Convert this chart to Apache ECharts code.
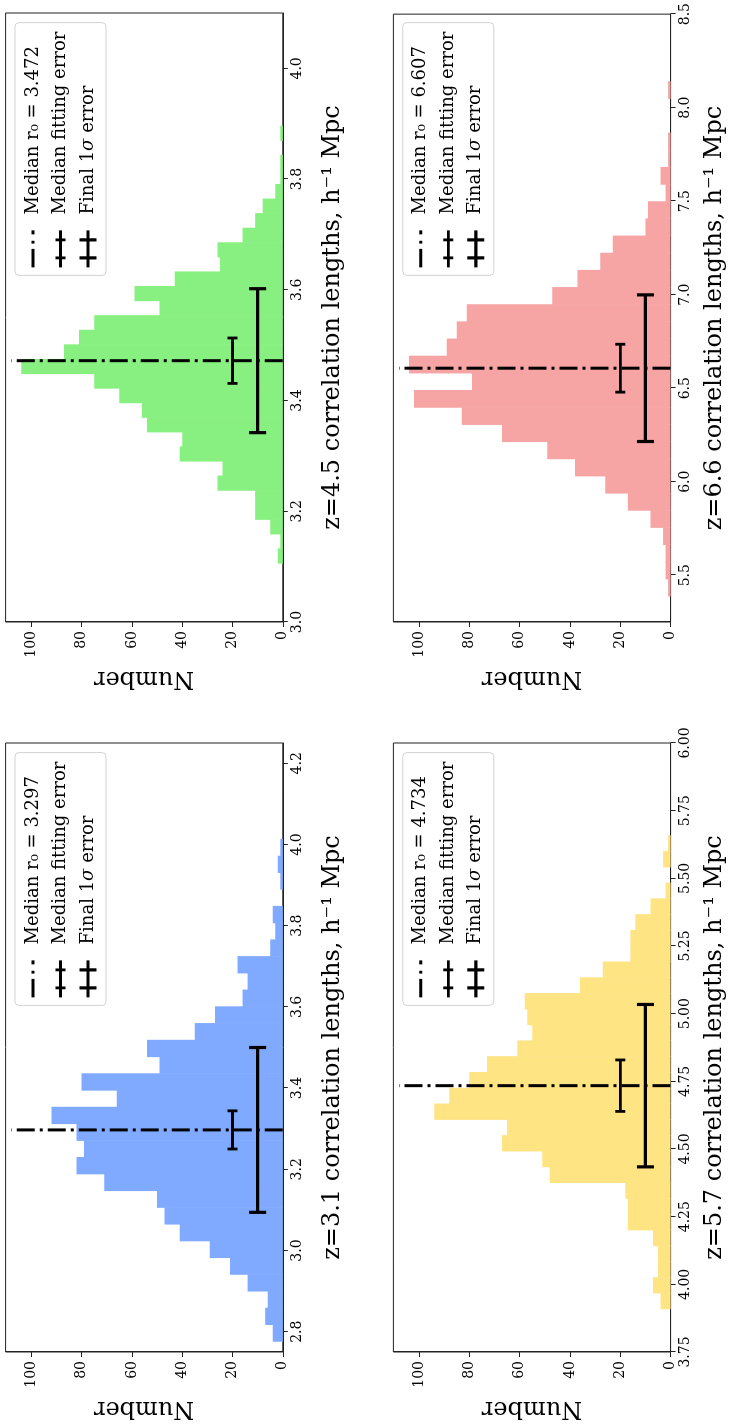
<!DOCTYPE html>
<html>
<head>
<meta charset="utf-8">
<script src="https://cdn.jsdelivr.net/npm/echarts@6/dist/echarts.min.js"></script>
<style>
  html, body { margin: 0; padding: 0; width: 730px; height: 1427px; overflow: hidden; background: #fff; }
  /* the figure is laid out landscape and turned a quarter turn counter-clockwise */
  #chart {
    position: absolute; left: 0; top: 0;
    width: 1427px; height: 730px;
    transform-origin: 0 0;
    transform: translate(0, 1427px) rotate(-90deg);
  }
</style>
</head>
<body>
<div id="chart"></div>
<script>
// ---- data -------------------------------------------------------------
const redshifts = ['3.1', '4.5', '5.7', '6.6'];

// histogram of fitted r0 values: first/last bin edge and counts (30 equal bins)
const binRangeZ31 = [2.776, 4.013];
const countsZ31 = [4, 7, 6, 14, 21, 29, 41, 47, 50, 71, 82, 79, 82, 92, 66,
                   80, 49, 54, 35, 27, 16, 14, 18, 5, 3, 4, 0, 1, 2, 1];
const binRangeZ45 = [3.106, 3.896];
const countsZ45 = [2, 1, 5, 11, 11, 26, 24, 41, 40, 54, 56, 65, 75, 104, 87,
                   81, 75, 49, 59, 43, 25, 26, 16, 11, 8, 3, 1, 1, 0, 1];
const binRangeZ57 = [3.909, 5.658];
const countsZ57 = [4, 7, 5, 5, 7, 17, 17, 18, 48, 51, 67, 65, 94, 88, 80,
                   73, 61, 55, 57, 58, 36, 27, 16, 16, 14, 8, 2, 0, 3, 1];
const binRangeZ66 = [5.388, 8.140];
const countsZ66 = [1, 2, 2, 3, 8, 17, 26, 38, 49, 67, 83, 102, 79, 104, 89,
                   85, 81, 47, 37, 28, 23, 10, 9, 2, 4, 1, 1, 0, 0, 1];

const medians     = [3.297, 3.472, 4.734, 6.607];
const fitErrors   = [0.047, 0.041, 0.095, 0.128];
const finalErrors = [0.203, 0.130, 0.300, 0.392];
const fitErrorLevel = 20;    // height (Number) at which the fitting error bar sits
const finalErrorLevel = 10;  // height of the final 1-sigma bar
const medianLineTop = 108;

const xLimits = [[2.75, 4.25], [3.0, 4.1], [3.75, 6.0], [5.25, 8.5]];
const xTicksZ31 = [2.8, 3.0, 3.2, 3.4, 3.6, 3.8, 4.0, 4.2];
const xTicksZ45 = [3.0, 3.2, 3.4, 3.6, 3.8, 4.0];
const xTicksZ57 = [3.75, 4.00, 4.25, 4.50, 4.75, 5.00, 5.25, 5.50, 5.75, 6.00];
const xTicksZ66 = [5.5, 6.0, 6.5, 7.0, 7.5, 8.0, 8.5];
const xTickDecimals = [1, 1, 2, 1];
const yTicks = [0, 20, 40, 60, 80, 100];
const yMax = 110.2;

// ---- styling / layout -------------------------------------------------
const binRanges = [binRangeZ31, binRangeZ45, binRangeZ57, binRangeZ66];
const binCounts = [countsZ31, countsZ45, countsZ57, countsZ66];
const xTicks = [xTicksZ31, xTicksZ45, xTicksZ57, xTicksZ66];
const barColors = ['#80AAFF', '#88F080', '#FFE484', '#F6A4A4'];
const FONT = 'DejaVu Serif';
const W = 1427;

const gridBoxes = [
  { left: 75,  top: 5.6,   width: 609, height: 277.2 },
  { left: 805, top: 5.6,   width: 609, height: 277.2 },
  { left: 75,  top: 393.4, width: 609, height: 277.2 },
  { left: 805, top: 393.4, width: 609, height: 277.2 }
];
const xNameGaps = [38, 38, 32, 32];

// legend handles, drawn 1:1 in a 37px wide box
const iconDashDot = 'path://M0,0h18.5v3h-18.5z M23.8,0h2.8v3h-2.8z M33,0h4v3h-4z';
const iconFit = 'path://M0,3.6h37v2.8h-37z M8.1,0h2.8v10h-2.8z M26.1,0h2.8v10h-2.8z';
const iconFinal = 'path://M0,6.9h37v3.2h-37z M7.9,0h3.2v17h-3.2z M25.9,0h3.2v17h-3.2z';

function histBins(range, counts) {
  const n = counts.length;
  const w = (range[1] - range[0]) / n;
  return counts.map((c, i) => [range[0] + i * w, range[0] + (i + 1) * w, c]);
}

function histRender(color) {
  return function (params, api) {
    const c = api.value(2);
    if (!c) return null;
    const p0 = api.coord([api.value(0), c]);
    const p1 = api.coord([api.value(1), 0]);
    return {
      type: 'rect',
      shape: { x: p0[0] - 0.3, y: p0[1], width: p1[0] - p0[0] + 0.6, height: p1[1] - p0[1] },
      style: { fill: color }
    };
  };
}

function medianRender(params, api) {
  const p0 = api.coord([api.value(0), api.value(1)]);
  const p1 = api.coord([api.value(0), api.value(2)]);
  return {
    type: 'line',
    shape: { x1: p0[0], y1: p0[1], x2: p1[0], y2: p1[1] },
    style: { stroke: '#000', lineWidth: 3, lineDash: [18, 5, 3, 5], lineCap: 'butt' }
  };
}

function errorRender(lw, cap) {
  return function (params, api) {
    const m = api.value(0), y = api.value(1), e = api.value(2);
    const l = api.coord([m - e, y]);
    const r = api.coord([m + e, y]);
    const st = { stroke: '#000', lineWidth: lw, lineCap: 'butt' };
    return {
      type: 'group',
      children: [
        { type: 'line', shape: { x1: l[0], y1: l[1], x2: r[0], y2: r[1] }, style: st },
        { type: 'line', shape: { x1: l[0], y1: l[1] - cap, x2: l[0], y2: l[1] + cap }, style: st },
        { type: 'line', shape: { x1: r[0], y1: r[1] - cap, x2: r[0], y2: r[1] + cap }, style: st }
      ]
    };
  };
}

const grids = [], xAxes = [], yAxes = [], legends = [], series = [];
const FIT_NAME = 'Median fitting error';
const FINAL_NAME = 'Final 1σ error';

for (let k = 0; k < 4; k++) {
  const g = gridBoxes[k];
  grids.push(Object.assign({ show: true, borderColor: '#222', borderWidth: 1, backgroundColor: 'transparent' }, g));

  const dec = xTickDecimals[k];
  xAxes.push({
    type: 'value', gridIndex: k, min: xLimits[k][0], max: xLimits[k][1],
    name: 'z=' + redshifts[k] + ' correlation lengths, h⁻¹ Mpc',
    nameLocation: 'middle', nameGap: xNameGaps[k],
    nameTextStyle: { fontFamily: FONT, fontSize: 24, color: '#000' },
    axisLine: { show: true, onZero: false, lineStyle: { color: '#222', width: 1 } },
    axisTick: { show: true, inside: false, length: 5, customValues: xTicks[k], lineStyle: { color: '#222', width: 1 } },
    axisLabel: { customValues: xTicks[k], formatter: v => v.toFixed(dec), fontFamily: FONT, fontSize: 14, color: '#000', margin: 8 },
    splitLine: { show: false }
  });
  yAxes.push({
    type: 'value', gridIndex: k, min: 0, max: yMax,
    name: 'Number', nameLocation: 'middle', nameGap: 44,
    nameTextStyle: { fontFamily: FONT, fontSize: 24, color: '#000' },
    axisLine: { show: true, lineStyle: { color: '#222', width: 1 } },
    axisTick: { show: true, inside: false, length: 5, customValues: yTicks, lineStyle: { color: '#222', width: 1 } },
    axisLabel: { customValues: yTicks, fontFamily: FONT, fontSize: 14, color: '#000', margin: 9 },
    splitLine: { show: false }
  });

  const medName = 'Median r₀ = ' + medians[k].toFixed(3);
  legends.push({
    orient: 'vertical',
    right: W - (g.left + g.width) + 9.6,
    top: g.top + 9.4,
    itemWidth: 37, itemHeight: 17, itemGap: 7.5,
    padding: [8, 9, 8, 8],
    borderColor: '#d2d2d2', borderWidth: 1, borderRadius: 4,
    backgroundColor: 'rgba(255,255,255,0.8)',
    selectedMode: false,
    data: [
      { name: medName, icon: iconDashDot, itemStyle: { color: '#000', borderWidth: 0 } },
      { name: FIT_NAME, icon: iconFit, itemStyle: { color: '#000', borderWidth: 0 } },
      { name: FINAL_NAME, icon: iconFinal, itemStyle: { color: '#000', borderWidth: 0 } }
    ],
    formatter: function (name) {
      if (name === FINAL_NAME) return '{n|Final 1}{i|σ}{n| error}';
      return name;
    },
    textStyle: {
      fontFamily: FONT, fontSize: 18, color: '#000', lineHeight: 20, padding: [0, 0, 0, 11],
      rich: {
        n: { fontFamily: FONT, fontSize: 18, color: '#000', lineHeight: 20 },
        i: { fontFamily: FONT, fontSize: 18, color: '#000', lineHeight: 20, fontStyle: 'italic' }
      }
    }
  });

  series.push({
    type: 'custom', xAxisIndex: k, yAxisIndex: k, silent: true, z: 1,
    data: histBins(binRanges[k], binCounts[k]),
    renderItem: histRender(barColors[k])
  });
  series.push({
    type: 'custom', name: medName, xAxisIndex: k, yAxisIndex: k, silent: true, z: 2,
    itemStyle: { color: '#000' },
    data: [[medians[k], 0, medianLineTop]],
    renderItem: medianRender
  });
  series.push({
    type: 'custom', name: FIT_NAME, xAxisIndex: k, yAxisIndex: k, silent: true, z: 3,
    itemStyle: { color: '#000' },
    data: [[medians[k], fitErrorLevel, fitErrors[k]]],
    renderItem: errorRender(2.8, 5)
  });
  series.push({
    type: 'custom', name: FINAL_NAME, xAxisIndex: k, yAxisIndex: k, silent: true, z: 3,
    itemStyle: { color: '#000' },
    data: [[medians[k], finalErrorLevel, finalErrors[k]]],
    renderItem: errorRender(3.2, 8.5)
  });
}

const chart = echarts.init(document.getElementById('chart'), null, { renderer: 'canvas' });
chart.setOption({
  animation: false,
  backgroundColor: '#fff',
  grid: grids,
  xAxis: xAxes,
  yAxis: yAxes,
  legend: legends,
  series: series
});
</script>
</body>
</html>
